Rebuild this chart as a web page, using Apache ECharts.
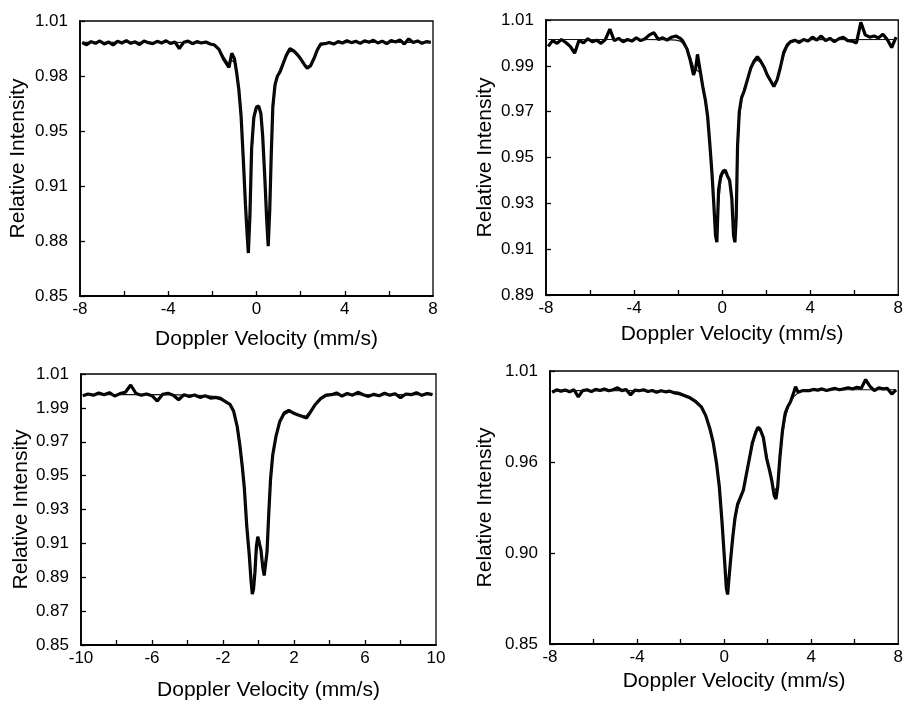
<!DOCTYPE html>
<html>
<head>
<meta charset="utf-8">
<script src="https://cdn.jsdelivr.net/npm/echarts@6/dist/echarts.min.js"></script>
<style>
  html, body { margin: 0; padding: 0; background: #fff; }
  #main { width: 906px; height: 702px; }
</style>
</head>
<body>
<div id="main"></div>
<script>
// panel 1 (top left): measured spectrum and fitted curve
var vel1 = [-7.9,-7.7,-7.5,-7.3,-7.1,-6.9,-6.7,-6.5,-6.3,-6.1,-5.9,-5.7,-5.5,-5.3,-5.1,-4.9,-4.7,-4.5,-4.3,-4.1,-3.9,-3.7,-3.5,-3.3,-3.1,-2.9,-2.7,-2.5,-2.3,-2.1,
  -1.9,-1.7,-1.5,-1.35,-1.25,-1.12,-1.0,-0.9,-0.8,-0.7,-0.6,-0.5,-0.42,-0.37,-0.3,-0.22,-0.12,
  0.0,0.1,0.2,0.28,0.38,0.46,0.53,0.6,0.67,0.74,0.84,0.95,1.07,1.2,1.35,1.52,1.7,1.85,2.0,2.15,2.3,2.45,2.6,2.75,2.9,
  3.1,3.3,3.5,3.7,3.9,4.1,4.3,4.5,4.7,4.9,5.1,5.3,5.5,5.7,5.9,6.1,6.3,6.5,6.7,6.9,7.1,7.3,7.5,7.7,7.9];
var obs1 = [0.9975,0.9962,0.9980,0.9970,0.9984,0.9966,0.9978,0.9960,0.9982,0.9972,0.9986,0.9970,0.9979,0.9963,0.9983,0.9974,0.9968,0.9982,0.9972,0.9985,0.9969,0.9978,0.9940,0.9976,0.9983,0.9968,0.9980,0.9972,0.9978,0.9966,
  0.9960,0.9935,0.9880,0.9850,0.9830,0.9912,0.9880,0.9800,0.9700,0.9550,0.9300,0.9030,0.8850,0.8750,0.8960,0.9360,0.9540,
  0.9600,0.9605,0.9560,0.9430,0.9180,0.8950,0.8790,0.9000,0.9330,0.9600,0.9730,0.9780,0.9805,0.9850,0.9900,0.9940,0.9925,0.9905,0.9880,0.9850,0.9825,0.9840,0.9880,0.9930,0.9965,
  0.9968,0.9975,0.9966,0.9980,0.9972,0.9986,0.9974,0.9982,0.9970,0.9985,0.9976,0.9988,0.9972,0.9983,0.9968,0.9986,0.9978,0.9990,0.9966,0.9996,0.9975,0.9984,0.9970,0.9980,0.9976];
var velFit1 = [-7.9,-4.0,-2.5,-2.1,
  -1.9,-1.7,-1.5,-1.35,-1.25,-1.12,-1.0,-0.9,-0.8,-0.7,-0.6,-0.5,-0.42,-0.37,-0.3,-0.22,-0.12,
  0.0,0.1,0.2,0.28,0.38,0.46,0.53,0.6,0.67,0.74,0.84,0.95,1.07,1.2,1.35,1.52,1.7,1.85,2.0,2.15,2.3,2.45,2.6,2.75,2.9,
  3.1,3.5,5.0,7.9];
var fit1 = [0.9976,0.9976,0.9974,0.9970,
  0.9962,0.9940,0.9895,0.9865,0.9855,0.9870,0.9860,0.9800,0.9700,0.9540,0.9300,0.9020,0.8850,0.8790,0.8920,0.9300,0.9520,
  0.9595,0.9598,0.9550,0.9420,0.9170,0.8950,0.8810,0.8980,0.9300,0.9560,0.9710,0.9780,0.9820,0.9860,0.9900,0.9925,0.9920,0.9900,0.9875,0.9850,0.9835,0.9845,0.9880,0.9925,0.9955,
  0.9970,0.9974,0.9976,0.9976];

// panel 2 (top right)
var vel2 = [-7.9,-7.7,-7.5,-7.3,-7.1,-6.9,-6.7,-6.5,-6.3,-6.1,-5.9,-5.7,-5.5,-5.3,-5.1,-4.9,-4.7,-4.5,-4.3,-4.1,-3.9,-3.7,-3.5,-3.3,-3.1,-2.9,-2.7,-2.5,-2.3,-2.1,
  -1.9,-1.8,-1.6,-1.45,-1.3,-1.2,-1.12,-1.0,-0.88,-0.76,-0.66,-0.56,-0.46,-0.38,-0.3,-0.24,-0.16,-0.06,
  0.04,0.14,0.24,0.34,0.44,0.52,0.58,0.64,0.7,0.78,0.88,1.0,1.15,1.3,1.45,1.6,1.75,1.9,2.05,2.2,2.35,2.5,2.65,2.8,2.95,
  3.1,3.3,3.5,3.7,3.9,4.1,4.3,4.5,4.7,4.9,5.1,5.3,5.5,5.7,5.9,6.1,6.3,6.5,6.7,6.9,7.1,7.3,7.5,7.7,7.9];
var obs2 = [0.9985,1.0010,0.9998,1.0015,1.0002,0.9985,0.9955,1.0012,1.0000,1.0018,1.0005,1.0012,0.9998,1.0015,1.0060,1.0010,1.0020,1.0005,1.0015,1.0008,1.0022,1.0010,1.0018,1.0035,1.0045,1.0015,1.0022,1.0012,1.0025,1.0030,
  1.0020,1.0010,0.9975,0.9925,0.9860,0.9890,0.9950,0.9880,0.9810,0.9750,0.9680,0.9560,0.9430,0.9300,0.9160,0.9130,0.9360,0.9420,
  0.9440,0.9445,0.9420,0.9400,0.9320,0.9160,0.9130,0.9240,0.9550,0.9700,0.9760,0.9790,0.9840,0.9890,0.9920,0.9940,0.9920,0.9895,0.9860,0.9835,0.9810,0.9840,0.9895,0.9960,0.9990,
  1.0005,1.0012,1.0002,1.0015,1.0008,1.0025,1.0012,1.0030,1.0010,1.0020,1.0005,1.0018,1.0025,1.0010,1.0008,1.0000,1.0090,1.0035,1.0025,1.0030,1.0022,1.0038,1.0015,0.9980,1.0025];
var velFit2 = [-7.9,-4.0,-2.5,-2.1,
  -1.9,-1.8,-1.6,-1.45,-1.3,-1.2,-1.12,-1.0,-0.88,-0.76,-0.66,-0.56,-0.46,-0.38,-0.3,-0.24,-0.16,-0.06,
  0.04,0.14,0.24,0.34,0.44,0.52,0.58,0.64,0.7,0.78,0.88,1.0,1.15,1.3,1.45,1.6,1.75,1.9,2.05,2.2,2.35,2.5,2.65,2.8,2.95,
  3.1,3.4,4.0,7.9];
var fit2 = [1.0015,1.0015,1.0014,1.0012,
  1.0008,1.0000,0.9975,0.9940,0.9895,0.9885,0.9890,0.9870,0.9820,0.9760,0.9680,0.9570,0.9440,0.9310,0.9190,0.9160,0.9300,0.9400,
  0.9430,0.9435,0.9420,0.9390,0.9310,0.9190,0.9160,0.9260,0.9500,0.9670,0.9750,0.9800,0.9845,0.9885,0.9915,0.9925,0.9915,0.9890,0.9860,0.9835,0.9820,0.9845,0.9890,0.9945,0.9980,
  1.0000,1.0010,1.0014,1.0015];

// panel 3 (bottom left)
var vel3 = [-9.9,-9.6,-9.3,-9.0,-8.7,-8.4,-8.1,-7.8,-7.5,-7.2,-6.9,-6.6,-6.3,-6.0,-5.7,-5.4,-5.1,-4.8,-4.5,-4.2,-3.9,-3.6,-3.3,-3.0,-2.7,-2.4,-2.1,
  -1.9,-1.6,-1.4,-1.2,-1.05,-0.92,-0.8,-0.66,-0.52,-0.42,-0.35,-0.28,-0.2,-0.12,
  -0.04,0.06,0.14,0.24,0.32,0.4,0.48,0.58,0.68,0.8,0.98,1.2,1.45,1.7,1.95,2.2,2.45,2.7,2.95,3.2,3.5,3.8,
  4.1,4.4,4.7,5.0,5.3,5.6,5.9,6.2,6.5,6.8,7.1,7.4,7.7,8.0,8.3,8.6,8.9,9.2,9.5,9.8];
var obs3 = [0.9972,0.9982,0.9975,0.9988,0.9978,0.9990,0.9970,0.9984,0.9992,1.0035,0.9985,0.9975,0.9982,0.9972,0.9940,0.9980,0.9986,0.9975,0.9948,0.9978,0.9968,0.9976,0.9962,0.9972,0.9958,0.9962,0.9952,
  0.9940,0.9920,0.9880,0.9790,0.9680,0.9560,0.9430,0.9200,0.9030,0.8880,0.8800,0.8830,0.8930,0.9080,
  0.9140,0.9150,0.9060,0.8960,0.8910,0.8920,0.9050,0.9280,0.9480,0.9620,0.9730,0.9820,0.9870,0.9885,0.9870,0.9860,0.9850,0.9840,0.9880,0.9920,0.9955,0.9975,
  0.9978,0.9988,0.9970,0.9985,0.9975,0.9992,0.9978,0.9968,0.9980,0.9972,0.9986,0.9975,0.9983,0.9960,0.9982,0.9978,0.9990,0.9974,0.9985,0.9978];
var velFit3 = [-9.9,-5.0,-3.0,-2.4,-2.1,
  -1.9,-1.6,-1.4,-1.2,-1.05,-0.92,-0.8,-0.66,-0.52,-0.42,-0.35,-0.28,-0.2,-0.12,
  -0.04,0.06,0.14,0.24,0.32,0.4,0.48,0.58,0.68,0.8,0.98,1.2,1.45,1.7,1.95,2.2,2.45,2.7,2.95,3.2,3.5,3.8,
  4.1,5.0,9.8];
var fit3 = [0.9978,0.9978,0.9972,0.9966,0.9962,
  0.9942,0.9915,0.9875,0.9800,0.9700,0.9580,0.9440,0.9220,0.9040,0.8900,0.8840,0.8850,0.8920,0.9030,
  0.9100,0.9120,0.9060,0.8980,0.8940,0.8950,0.9060,0.9260,0.9460,0.9610,0.9730,0.9810,0.9860,0.9875,0.9870,0.9860,0.9850,0.9855,0.9885,0.9920,0.9950,0.9968,
  0.9975,0.9978,0.9978];

// panel 4 (bottom right)
var vel4 = [-7.9,-7.7,-7.5,-7.3,-7.1,-6.9,-6.7,-6.5,-6.3,-6.1,-5.9,-5.7,-5.5,-5.3,-5.1,-4.9,-4.7,-4.5,-4.3,-4.1,-3.9,-3.7,-3.5,-3.3,-3.1,-2.9,-2.7,-2.5,-2.3,-2.1,
  -1.9,-1.6,-1.3,-1.05,-0.85,-0.65,-0.5,-0.35,-0.22,-0.1,0.02,0.1,0.16,0.22,0.31,
  0.4,0.5,0.62,0.75,0.88,1.0,1.15,1.3,1.45,1.55,1.65,1.8,1.95,2.1,2.2,2.3,2.38,2.46,2.56,2.68,2.8,2.92,3.05,3.2,3.28,3.4,3.6,
  3.9,4.1,4.3,4.5,4.7,4.9,5.1,5.3,5.5,5.7,5.9,6.1,6.3,6.5,6.7,6.9,7.1,7.3,7.5,7.7,7.9];
var obs4 = [0.9975,0.9990,0.9982,0.9988,0.9978,0.9990,0.9948,0.9985,0.9990,0.9980,0.9992,0.9986,0.9995,0.9984,0.9990,1.0002,0.9985,0.9992,0.9960,0.9988,0.9984,0.9990,0.9980,0.9986,0.9975,0.9984,0.9978,0.9982,0.9972,0.9968,
  0.9960,0.9945,0.9920,0.9890,0.9840,0.9760,0.9680,0.9560,0.9420,0.9220,0.8990,0.8830,0.8790,0.8880,0.9010,
  0.9130,0.9240,0.9320,0.9360,0.9400,0.9480,0.9580,0.9680,0.9740,0.9770,0.9760,0.9710,0.9590,0.9510,0.9450,0.9370,0.9350,0.9420,0.9590,0.9750,0.9850,0.9890,0.9920,0.9975,1.0008,0.9975,0.9985,
  0.9985,0.9992,0.9988,0.9995,0.9986,0.9992,0.9998,0.9990,0.9995,1.0002,0.9994,1.0005,0.9998,1.0050,1.0010,0.9985,1.0002,0.9995,0.9998,0.9965,0.9990];
var velFit4 = [-7.9,-4.0,-2.5,-2.1,
  -1.9,-1.6,-1.3,-1.05,-0.85,-0.65,-0.5,-0.35,-0.22,-0.1,0.02,0.1,0.16,0.22,0.31,
  0.4,0.5,0.62,0.75,0.88,1.0,1.15,1.3,1.45,1.55,1.65,1.8,1.95,2.1,2.2,2.3,2.38,2.46,2.56,2.68,2.8,2.92,3.05,3.2,3.28,3.4,3.6,
  3.9,5.0,7.9];
var fit4 = [0.9985,0.9985,0.9980,0.9976,
  0.9965,0.9950,0.9925,0.9885,0.9835,0.9760,0.9680,0.9570,0.9430,0.9240,0.9010,0.8860,0.8820,0.8870,0.8990,
  0.9110,0.9220,0.9300,0.9350,0.9400,0.9470,0.9570,0.9665,0.9730,0.9755,0.9750,0.9705,0.9610,0.9510,0.9450,0.9390,0.9380,0.9430,0.9570,0.9720,0.9820,0.9880,0.9920,0.9950,0.9960,0.9972,0.9982,
  0.9988,0.9990,0.9990];

// axis ticks and labels
var xLabels1 = [-8, -4, 0, 4, 8];
var xTicks1 = [-6, -4, -2, 0, 2, 4, 6];
var xLabels3 = [-10, -6, -2, 2, 6, 10];
var xTicks3 = [-8, -6, -4, -2, 0, 2, 4, 6, 8];

var yVals1 = [0.85, 0.882, 0.914, 0.946, 0.978, 1.01];
var yText1 = ['0.85', '0.88', '0.91', '0.95', '0.98', '1.01'];
var yVals2 = [0.89, 0.91, 0.93, 0.95, 0.97, 0.99, 1.01];
var yText2 = ['0.89', '0.91', '0.93', '0.95', '0.97', '0.99', '1.01'];
var yVals3 = [0.85, 0.87, 0.89, 0.91, 0.93, 0.95, 0.97, 0.99, 1.01];
var yText3 = ['0.85', '0.87', '0.89', '0.91', '0.93', '0.95', '0.97', '1.99', '1.01'];
var yVals4 = [0.85, 0.90333, 0.95667, 1.01];
var yText4 = ['0.85', '0.90', '0.96', '1.01'];

var FONT = '"Liberation Sans", Arial, Helvetica, sans-serif';
var chart = echarts.init(document.getElementById('main'));

function pairs(xs, ys) {
  return xs.map(function (x, i) { return [x, ys[i]]; });
}

function xAxisOf(idx, min, max, labels, ticks, gap) {
  return {
    type: 'value', gridIndex: idx, min: min, max: max,
    name: 'Doppler Velocity (mm/s)', nameLocation: 'middle', nameGap: gap,
    nameTextStyle: { color: '#000', fontSize: 21, fontFamily: FONT, padding: [0, 0, 0, 20] },
    axisLine: { onZero: false, lineStyle: { color: '#000', width: 1.8 } },
    axisTick: { inside: true, length: 5, customValues: ticks, lineStyle: { color: '#000', width: 1.3 } },
    axisLabel: { customValues: labels, color: '#000', fontSize: 17, fontFamily: FONT, margin: 5 },
    splitLine: { show: false }
  };
}

function yAxisOf(idx, vals, text, gap) {
  return {
    type: 'value', gridIndex: idx, min: vals[0], max: vals[vals.length - 1],
    name: 'Relative Intensity', nameLocation: 'middle', nameGap: gap,
    nameTextStyle: { color: '#000', fontSize: 21, fontFamily: FONT },
    axisLine: { onZero: false, lineStyle: { color: '#000', width: 1.8 } },
    axisTick: { inside: true, length: 5, customValues: vals, lineStyle: { color: '#000', width: 1.3 } },
    axisLabel: {
      customValues: vals, color: '#000', fontSize: 17, fontFamily: FONT, margin: 12,
      formatter: function (v) {
        for (var i = 0; i < vals.length; i++) {
          if (Math.abs(vals[i] - v) < 1e-4) return text[i];
        }
        return '';
      }
    },
    splitLine: { show: false }
  };
}

function seriesOf(idx, xs, obs, fx, fit) {
  return [
    {
      type: 'line', xAxisIndex: idx, yAxisIndex: idx, data: pairs(xs, obs),
      showSymbol: false, lineStyle: { color: '#000', width: 3.2 }, z: 2
    },
    {
      type: 'line', xAxisIndex: idx, yAxisIndex: idx, data: pairs(fx, fit),
      showSymbol: false, lineStyle: { color: '#111', width: 1.2 }, z: 3
    }
  ];
}

var gridStyle = { show: true, borderColor: '#000', borderWidth: 1.3, containLabel: false };

var option = {
  backgroundColor: '#fff',
  animation: false,
  grid: [
    Object.assign({ left: 80, top: 21, width: 353, height: 275 }, gridStyle),
    Object.assign({ left: 546, top: 20, width: 355, height: 275 }, gridStyle),
    Object.assign({ left: 81, top: 374, width: 355, height: 273 }, gridStyle),
    Object.assign({ left: 550, top: 371, width: 353, height: 273 }, gridStyle)
  ],
  xAxis: [
    xAxisOf(0, -8, 8, xLabels1, xTicks1, 33),
    xAxisOf(1, -8, 8, xLabels1, xTicks1, 29),
    xAxisOf(2, -10, 10, xLabels3, xTicks3, 35),
    xAxisOf(3, -8, 8, xLabels1, xTicks1, 27)
  ],
  yAxis: [
    yAxisOf(0, yVals1, yText1, 51),
    yAxisOf(1, yVals2, yText2, 50),
    yAxisOf(2, yVals3, yText3, 48),
    yAxisOf(3, yVals4, yText4, 54)
  ],
  series: [].concat(
    seriesOf(0, vel1, obs1, velFit1, fit1),
    seriesOf(1, vel2, obs2, velFit2, fit2),
    seriesOf(2, vel3, obs3, velFit3, fit3),
    seriesOf(3, vel4, obs4, velFit4, fit4)
  )
};

chart.setOption(option);
</script>
</body>
</html>
